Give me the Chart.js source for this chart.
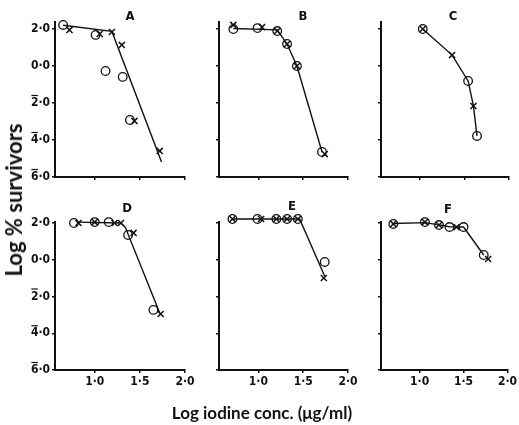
<!DOCTYPE html>
<html><head><meta charset="utf-8">
<script src="https://cdn.jsdelivr.net/npm/chart.js@4.4.1/dist/chart.umd.min.js"></script>
<style>
html,body{margin:0;padding:0;background:#fff;}
#wrap{position:relative;width:519px;height:425px;overflow:hidden;background:#fff;}
canvas{position:absolute;left:0;top:0;}
.lbl{position:absolute;font-weight:700;color:#111;white-space:nowrap;line-height:1;}
.ttl{font-family:Lato,"DejaVu Sans",sans-serif;}
.let{font-family:"DejaVu Sans Condensed","DejaVu Sans",sans-serif;font-size:13px;transform:translate(-50%,-50%);}
</style></head><body>
<div id="wrap"></div>
<script>
// ---- data ----
const xTicks = [1.0, 1.5, 2.0];
const xTickLabels = ['1·0', '1·5', '2·0'];
const yTicks = [2, 0, -2, -4, -6];
// negative logs written in bar notation (bar over the characteristic): 2̄·0 = -2
const yTickLabels = ['2·0', '0·0', '2·0', '4·0', '6·0'];
const yTickBarred = [false, false, true, true, true];
const panelNames = ['A', 'B', 'C', 'D', 'E', 'F'];

// Panel A
const aCircleX = [0.65, 1.01, 1.12, 1.31, 1.39];
const aCircleY = [2.22, 1.68, -0.27, -0.59, -2.92];
const aCrossX = [0.72, 1.055, 1.19, 1.30, 1.44, 1.72];
const aCrossY = [1.95, 1.73, 1.84, 1.14, -2.97, -4.59];
const aLineX = [0.65, 1.19, 1.74];
const aLineY = [2.20, 1.87, -5.19];
// Panel B
const bCircleX = [0.72, 0.99, 1.21, 1.32, 1.43, 1.71];
const bCircleY = [2.00, 2.05, 1.89, 1.19, 0.00, -4.65];
const bCrossX = [0.72, 1.04, 1.21, 1.32, 1.43, 1.74];
const bCrossY = [2.22, 2.10, 1.89, 1.19, 0.00, -4.76];
const bLineX = [0.72, 1.21, 1.32, 1.43, 1.71];
const bLineY = [2.03, 1.95, 1.19, 0.00, -4.65];
// Panel C
const cCircleX = [1.03, 1.54, 1.64];
const cCircleY = [2.00, -0.81, -3.78];
const cCrossX = [1.03, 1.36, 1.60];
const cCrossY = [2.00, 0.59, -2.16];
const cLineX = [1.03, 1.36, 1.54, 1.60, 1.64];
const cLineY = [2.00, 0.59, -0.81, -2.16, -3.78];
// Panel D
const dCircleX = [0.77, 1.00, 1.155, 1.37, 1.65];
const dCircleY = [2.00, 2.05, 2.05, 1.35, -2.73];
const dCrossX = [0.82, 1.00, 1.22, 1.29, 1.43, 1.73];
const dCrossY = [2.00, 2.05, 2.00, 2.00, 1.46, -2.95];
const dLineX = [0.80, 1.29, 1.34, 1.72];
const dLineY = [2.05, 2.00, 1.75, -2.90];
// Panel E
const eCircleX = [0.71, 0.99, 1.20, 1.32, 1.44, 1.74];
const eCircleY = [2.22, 2.22, 2.22, 2.22, 2.22, -0.12];
const eCrossX = [0.71, 1.03, 1.20, 1.32, 1.44, 1.73];
const eCrossY = [2.22, 2.22, 2.22, 2.22, 2.22, -0.99];
const eLineX = [0.71, 1.46, 1.74];
const eLineY = [2.22, 2.22, -0.90];
// Panel F
const fCircleX = [0.70, 1.06, 1.22, 1.34, 1.50, 1.73];
const fCircleY = [1.95, 2.05, 1.89, 1.78, 1.78, 0.26];
const fCrossX = [0.70, 1.06, 1.22, 1.42, 1.78];
const fCrossY = [1.95, 2.05, 1.89, 1.78, 0.04];
const fLineX = [0.70, 1.06, 1.22, 1.34, 1.50, 1.73];
const fLineY = [1.97, 2.02, 1.90, 1.80, 1.78, 0.26];

const xTitle = 'Log iodine conc. (\u03bcg/ml)';
const yTitle = 'Log % survivors';

// ---- layout (pixel geometry of each plot area) ----
const W = 519, H = 425;
const layoutBoxes = [
  {left: 55, right: 185, top: 21.6, bottom: 177, yMax: 2.4, showY: true, showX: false, lx: 130, ly: 15},
  {left: 219, right: 348, top: 21.6, bottom: 177, yMax: 2.4, showY: false, showX: false, lx: 303, ly: 15},
  {left: 381, right: 509, top: 21.6, bottom: 177, yMax: 2.4, showY: false, showX: false, lx: 453, ly: 15},
  {left: 55, right: 185, top: 222.1, bottom: 370, yMax: 2.05, showY: true, showX: true, lx: 127, ly: 207},
  {left: 219, right: 348, top: 222.1, bottom: 370, yMax: 2.05, showY: false, showX: true, lx: 292, ly: 205},
  {left: 381, right: 509, top: 222.1, bottom: 370, yMax: 2.05, showY: false, showX: true, lx: 448, ly: 208}
];
const panelData = [
  [aCircleX, aCircleY, aCrossX, aCrossY, aLineX, aLineY],
  [bCircleX, bCircleY, bCrossX, bCrossY, bLineX, bLineY],
  [cCircleX, cCircleY, cCrossX, cCrossY, cLineX, cLineY],
  [dCircleX, dCircleY, dCrossX, dCrossY, dLineX, dLineY],
  [eCircleX, eCircleY, eCrossX, eCrossY, eLineX, eLineY],
  [fCircleX, fCircleY, fCrossX, fCrossY, fLineX, fLineY]
];

const INK = '#111';
const FONT_FAMILY = '"DejaVu Sans Condensed", "DejaVu Sans", sans-serif';
const tickFont = {family: FONT_FAMILY, size: 12, weight: 'bold'};
const YW = 34, XH = 24, TL = 3, TP = 2;
const pts = (xs, ys) => xs.map((x, i) => ({x: x, y: ys[i]}));

// draws the bar over the characteristic of negative log tick labels
const overbarPlugin = {
  id: 'overbar',
  afterDraw(chart, args, opts) {
    if (!opts.show) return;
    const s = chart.scales.y, ctx = chart.ctx;
    ctx.save();
    ctx.font = 'bold ' + tickFont.size + 'px ' + FONT_FAMILY;
    ctx.strokeStyle = INK; ctx.lineWidth = 1.2;
    yTicks.forEach((v, i) => {
      if (!yTickBarred[i]) return;
      const lab = yTickLabels[i];
      const w = ctx.measureText(lab).width;
      const dw = ctx.measureText(lab.charAt(0)).width;
      const xr = s.right - TL - TP;
      const y = s.getPixelForValue(v) - tickFont.size * 0.5 - 1.5;
      ctx.beginPath();
      ctx.moveTo(xr - w + 0.5, y);
      ctx.lineTo(xr - w + dw - 0.5, y);
      ctx.stroke();
    });
    ctx.restore();
  }
};

const wrap = document.getElementById('wrap');

layoutBoxes.forEach((g, k) => {
  const [cx, cy, xx, xy, lx, ly] = panelData[k];
  const cv = document.createElement('canvas');
  cv.width = W; cv.height = H;
  cv.style.width = W + 'px'; cv.style.height = H + 'px';
  wrap.appendChild(cv);
  new Chart(cv.getContext('2d'), {
    type: 'scatter',
    plugins: [overbarPlugin],
    data: {
      datasets: [
        {type: 'line', data: pts(lx, ly), borderColor: INK, borderWidth: 1.4, pointRadius: 0, tension: 0, fill: false, clip: false},
        {data: pts(cx, cy), pointStyle: 'circle', pointRadius: 4.3, borderColor: INK, borderWidth: 1.3, backgroundColor: 'rgba(0,0,0,0)', clip: false},
        {data: pts(xx, xy), pointStyle: 'crossRot', pointRadius: 4.3, borderColor: INK, borderWidth: 1.5, clip: false}
      ]
    },
    options: {
      responsive: false, animation: false, devicePixelRatio: 1,
      layout: {padding: {left: g.left - YW, right: W - g.right, top: g.top, bottom: H - g.bottom - XH}},
      plugins: {legend: {display: false}, tooltip: {enabled: false}, overbar: {show: g.showY}},
      scales: {
        x: {
          type: 'linear', min: 0.56, max: 2.0,
          afterBuildTicks: s => { s.ticks = xTicks.map(v => ({value: v})); },
          afterFit: s => { s.height = XH; },
          ticks: {autoSkip: false, maxRotation: 0, padding: TP, color: INK, font: tickFont,
            callback: v => g.showX ? xTickLabels[xTicks.indexOf(v)] : ''},
          grid: {drawOnChartArea: false, drawTicks: true, tickLength: TL, color: INK, lineWidth: 1.5},
          border: {display: true, color: INK, width: 2}
        },
        y: {
          type: 'linear', min: -6, max: g.yMax,
          afterBuildTicks: s => { s.ticks = yTicks.map(v => ({value: v})); },
          afterFit: s => { s.width = YW; },
          ticks: {autoSkip: false, padding: TP, color: INK, font: tickFont,
            callback: v => g.showY ? yTickLabels[yTicks.indexOf(v)] : ''},
          grid: {drawOnChartArea: false, drawTicks: true, tickLength: TL, color: INK, lineWidth: 1.5},
          border: {display: true, color: INK, width: 2}
        }
      }
    }
  });
  const t = document.createElement('div');
  t.className = 'lbl let';
  t.style.left = g.lx + 'px'; t.style.top = g.ly + 'px';
  t.textContent = panelNames[k];
  wrap.appendChild(t);
});

const yt = document.createElement('div');
yt.className = 'lbl ttl';
yt.style.cssText = 'left:14px;top:200px;font-size:22px;transform:translate(-50%,-50%) rotate(-90deg);';
yt.textContent = yTitle;
wrap.appendChild(yt);

const xt = document.createElement('div');
xt.className = 'lbl ttl';
xt.style.cssText = 'left:262px;top:412px;font-size:17px;transform:translate(-50%,-50%);';
xt.textContent = xTitle;
wrap.appendChild(xt);
</script>
</body></html>
